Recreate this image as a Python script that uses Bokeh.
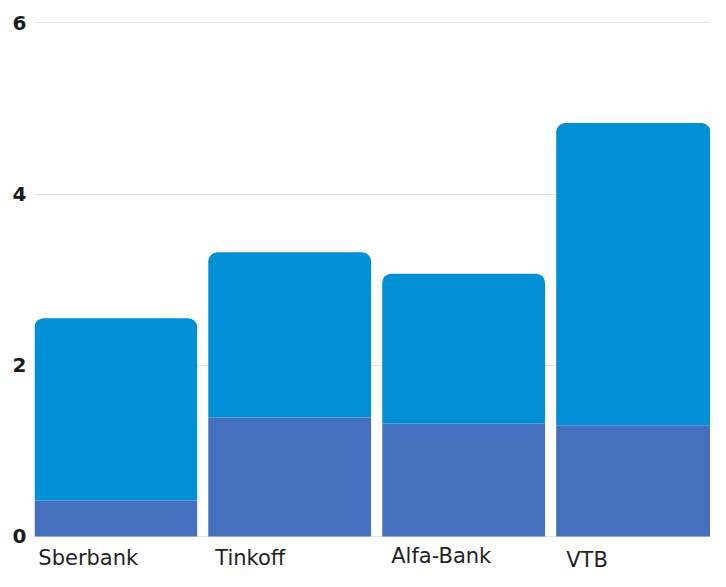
from bokeh.plotting import figure
from bokeh.models import ColumnDataSource, Range1d, FixedTicker
from bokeh.core.properties import value
from bokeh.embed import file_html
from bokeh.resources import INLINE

# ---- data ----
categories = ["Sberbank", "Tinkoff", "Alfa-Bank", "VTB"]
lower_segment = [0.42, 1.39, 1.32, 1.30]
upper_segment = [2.13, 1.93, 1.75, 3.53]
y_ticks = [0, 2, 4, 6]

# ---- label nudges (pixels) ----
label_dx = [4, 7, 9, 10]
label_dy = [22, 22, 20, 24]

BAR_W = 0.936
DARK = "#4570be"
LIGHT = "#0190d6"

xs = list(range(len(categories)))
tops = [a + b for a, b in zip(lower_segment, upper_segment)]

src = ColumnDataSource(dict(
    x=xs, lower=lower_segment, top=tops, label=categories,
    lx=[x - BAR_W / 2 for x in xs], dx=label_dx, dy=label_dy,
    zero=[0] * len(xs),
))

p = figure(width=710, height=571, output_backend="svg", toolbar_location=None,
           x_range=Range1d(-0.467, 3.419), y_range=Range1d(-0.409, 6.262),
           x_axis_location=None,
           min_border_left=34, min_border_right=0, min_border_top=0, min_border_bottom=0)
p.outline_line_color = None
p.background_fill_color = "white"
p.border_fill_color = "white"

p.yaxis.ticker = FixedTicker(ticks=y_ticks)
p.yaxis.axis_line_color = None
p.yaxis.major_tick_line_color = None
p.yaxis.minor_tick_line_color = None
p.yaxis.major_tick_out = 0
p.yaxis.major_tick_in = 0
p.yaxis.major_label_text_font = "DejaVu Sans"
p.yaxis.major_label_text_font_style = "bold"
p.yaxis.major_label_text_font_size = "20px"
p.yaxis.major_label_text_color = "#1a1a1a"
p.yaxis.major_label_standoff = 8

p.xgrid.visible = False
p.ygrid.ticker = FixedTicker(ticks=y_ticks)
p.ygrid.grid_line_color = "#e3e3e3"
p.ygrid.grid_line_width = 1

p.vbar(x="x", width=BAR_W, bottom=0, top="lower", source=src,
       fill_color=DARK, line_color=None)
p.vbar(x="x", width=BAR_W, bottom="lower", top="top", source=src,
       fill_color=LIGHT, line_color=None, border_radius=(9, 9, 0, 0))

p.text(x="lx", y="zero", text="label", x_offset="dx", y_offset="dy", source=src,
       text_align="left", text_baseline="alphabetic",
       text_font=value("DejaVu Sans"), text_font_size="21px", text_color="#1f1f1f")

open("out.html", "w").write(file_html(p, INLINE))
